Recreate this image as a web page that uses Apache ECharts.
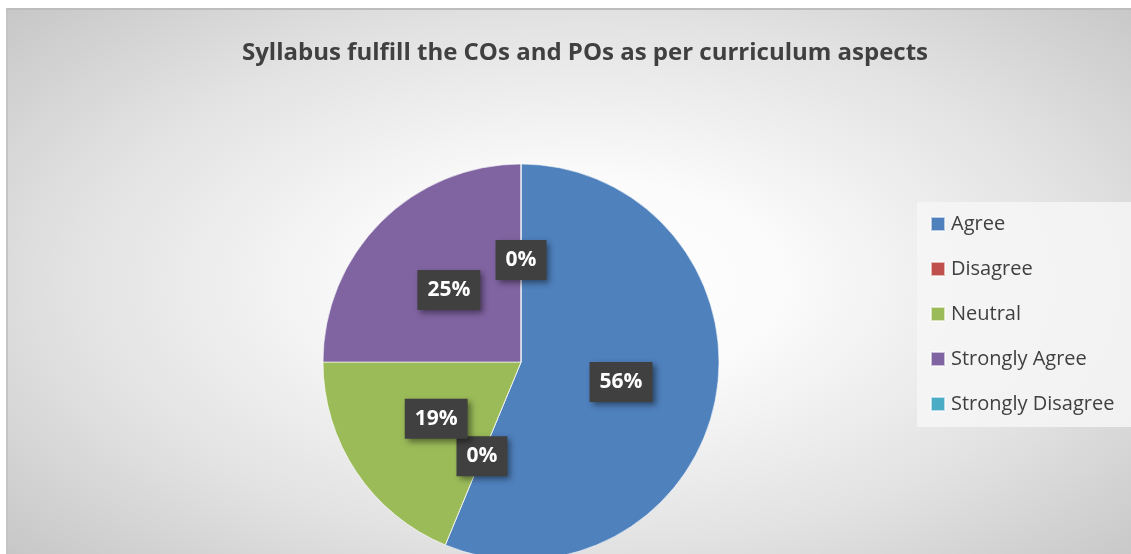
<!DOCTYPE html>
<html>
<head>
<meta charset="utf-8">
<script src="https://cdn.jsdelivr.net/npm/echarts@6/dist/echarts.min.js"></script>
<style>
  html, body { margin: 0; padding: 0; background: #fff; }
  #wrap { position: absolute; left: 6px; top: 8px; width: 1125px; height: 546px;
    border-top: 2px solid #bdbdbd; border-left: 2px solid #c4c4c4; box-sizing: border-box;
    background: radial-gradient(ellipse 70% 75% at 51% 50%, #ffffff 0%, #fbfbfb 25%, #e2e2e2 65%, #c6c6c6 100%); }
  #chart { position: absolute; left: -8px; top: -10px; width: 1131px; height: 554px; }
</style>
</head>
<body>
<div id="wrap"><div id="chart"></div></div>
<script>
// 数据
var categories = ['Agree', 'Disagree', 'Neutral', 'Strongly Agree', 'Strongly Disagree'];
var counts = [9, 0, 3, 4, 0];
var colors = ['#4F81BD', '#C0504D', '#9BBB59', '#8064A2', '#4BACC6'];
var title = 'Syllabus fulfill the COs and POs as per curriculum aspects';

var total = counts.reduce(function (a, b) { return a + b; }, 0);

var myChart = echarts.init(document.getElementById('chart'));

var pieData = categories.map(function (name, i) {
    return { name: name, value: counts[i], itemStyle: { color: colors[i] } };
});

var option = {
    backgroundColor: 'transparent',
    animation: false,
    title: {
        text: title,
        left: 580,
        top: 36,
        textAlign: 'center',
        textStyle: { fontFamily: 'Open Sans', fontWeight: 'bold', fontSize: 24, color: '#404040' }
    },
    // 图例背景框
    graphic: [{
        type: 'rect',
        left: 917,
        top: 202,
        shape: { width: 214, height: 225 },
        style: { fill: 'rgba(246,246,246,0.85)' },
        silent: true,
        z: 0
    }],
    legend: {
        orient: 'vertical',
        left: 930,
        top: 214,
        padding: 0,
        itemGap: 25,
        itemWidth: 14,
        itemHeight: 14,
        icon: 'rect',
        textStyle: { fontFamily: 'Open Sans', fontSize: 20, color: '#404040', padding: [0, 0, 0, 1] },
        data: categories
    },
    series: [{
        type: 'pie',
        center: [521, 362],
        radius: 198,
        startAngle: 90,
        clockwise: true,
        avoidLabelOverlap: false,
        labelLayout: { hideOverlap: false },
        itemStyle: { borderColor: 'rgba(255,255,255,0.6)', borderWidth: 1 },
        label: {
            position: 'inside',
            formatter: function (p) { return Math.round(p.value / total * 100) + '%'; },
            fontFamily: 'Open Sans',
            fontWeight: 'bold',
            fontSize: 21,
            color: '#ffffff',
            backgroundColor: '#404040',
            padding: [10, 10, 9, 10],
            shadowColor: 'rgba(0,0,0,0.45)',
            shadowBlur: 6,
            shadowOffsetX: 3,
            shadowOffsetY: 3
        },
        labelLine: { show: false },
        emphasis: { disabled: true },
        data: pieData
    }]
};

myChart.setOption(option);
</script>
</body>
</html>
